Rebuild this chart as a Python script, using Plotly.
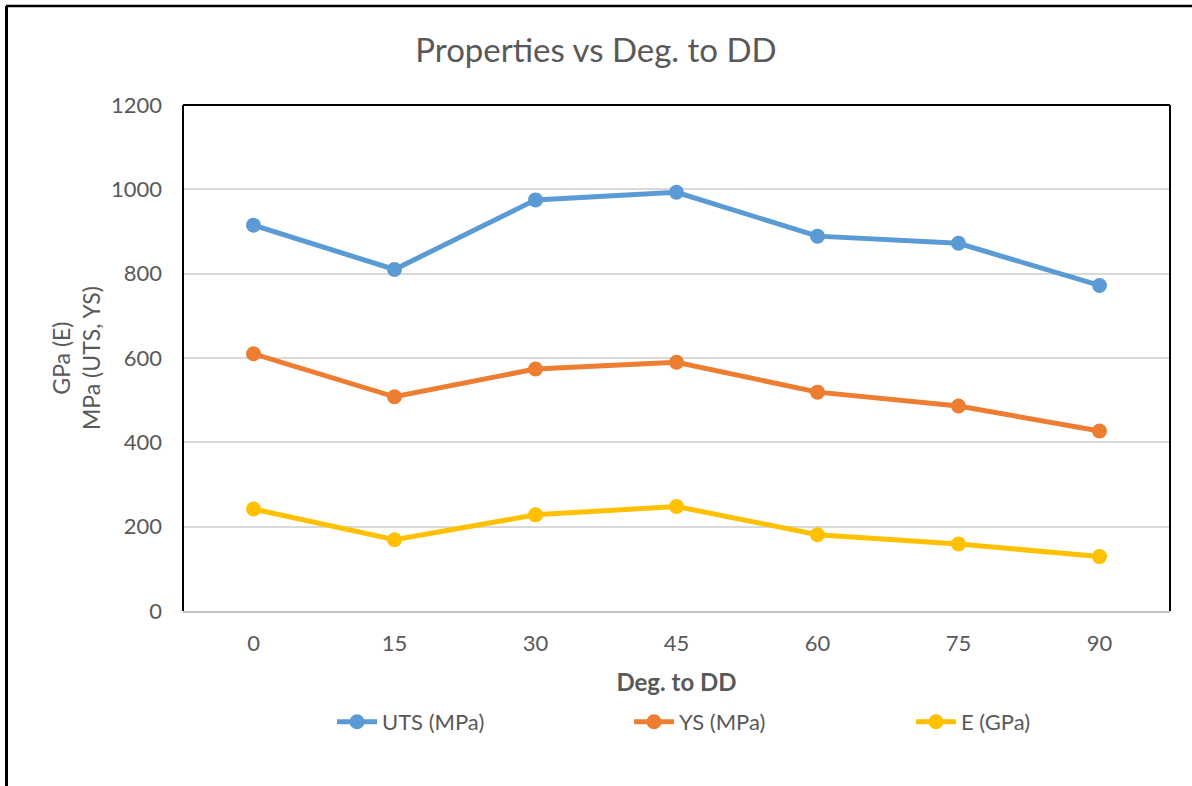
import plotly.graph_objects as go

# Orientation relative to the drawing direction (degrees)
angles = [0, 15, 30, 45, 60, 75, 90]

# Measured properties
uts_mpa = [915, 810, 975, 993, 889, 872, 772]
ys_mpa = [610, 508, 574, 590, 519, 486, 427]
e_gpa = [242, 169, 228, 248, 181, 159, 129]

series = [
    ("UTS (MPa)", uts_mpa, "#5B9BD5"),
    ("YS (MPa)", ys_mpa, "#ED7D31"),
    ("E (GPa)", e_gpa, "#FFC000"),
]

W, H = 1192, 786
ML, MR, MT, MB = 183, 22, 105, 175
PW, PH = W - ML - MR, H - MT - MB

FONT = "Lato, Calibri, Arial, sans-serif"
GREY = "#595959"


def px_x(p):
    return (p - ML) / PW


def px_y(p):
    return (H - MB - p) / PH


# one legend box per series, laid out in a row under the axis title
legend_ids = ["legend", "legend2", "legend3"]
legend_left = [332, 629, 911]

fig = go.Figure()
for (name, vals, col), lid in zip(series, legend_ids):
    fig.add_trace(go.Scatter(
        x=angles, y=vals, name=name, mode="lines+markers",
        line=dict(color=col, width=5),
        marker=dict(color=col, size=15),
        legend=lid, showlegend=True,
    ))

shapes = [
    # plot-area frame (left, top, right)
    dict(type="line", xref="paper", yref="paper", x0=0, x1=0, y0=0, y1=1,
         line=dict(color="black", width=2)),
    dict(type="line", xref="paper", yref="paper", x0=0, x1=1, y0=1, y1=1,
         line=dict(color="black", width=2)),
    dict(type="line", xref="paper", yref="paper", x0=1, x1=1, y0=0, y1=1,
         line=dict(color="black", width=2)),
    # outer chart frame (top and left edges)
    dict(type="line", xref="paper", yref="paper", x0=px_x(6), x1=px_x(W + 5),
         y0=px_y(6), y1=px_y(6), line=dict(color="black", width=2.5)),
    dict(type="line", xref="paper", yref="paper", x0=px_x(6.5), x1=px_x(6.5),
         y0=px_y(6), y1=px_y(H + 5), line=dict(color="black", width=3)),
]

legend_style = dict(orientation="h", xanchor="left", xref="paper",
                    y=px_y(722), yanchor="middle",
                    font=dict(size=22, color=GREY), itemwidth=40,
                    bgcolor="rgba(0,0,0,0)")

fig.update_layout(
    width=W, height=H,
    showlegend=True,
    margin=dict(l=ML, r=MR, t=MT, b=MB),
    paper_bgcolor="white", plot_bgcolor="white",
    font=dict(family=FONT, color=GREY, size=22),
    title=dict(text="Properties vs Deg. to DD", x=0.5, xanchor="center",
               xref="container", y=1 - 50 / H, yanchor="middle",
               yref="container",
               font=dict(size=33, color=GREY, family=FONT)),
    xaxis=dict(
        range=[-7.5, 97.5], tickvals=angles, ticktext=[str(a) for a in angles],
        showgrid=False, zeroline=False, showline=True, linecolor="#BFBFBF",
        linewidth=2, ticks="", tickfont=dict(size=22, color=GREY),
        ticklabelstandoff=12,
        title=dict(text="<b>Deg. to DD</b>", font=dict(size=24, color=GREY),
                   standoff=19),
    ),
    yaxis=dict(
        range=[0, 1200], tickvals=[0, 200, 400, 600, 800, 1000, 1200],
        showgrid=True, gridcolor="#D9D9D9", gridwidth=1.5, zeroline=False,
        showline=False, ticks="", ticklabelstandoff=20,
        tickfont=dict(size=22, color=GREY),
    ),
    legend=dict(x=px_x(legend_left[0]), **legend_style),
    legend2=dict(x=px_x(legend_left[1]), **legend_style),
    legend3=dict(x=px_x(legend_left[2]), **legend_style),
    shapes=shapes,
    annotations=[dict(
        text="GPa (E)<br>MPa (UTS, YS)", textangle=-90, xref="paper",
        yref="paper", x=px_x(76), y=0.5, xanchor="center", yanchor="middle",
        showarrow=False, font=dict(size=23, color=GREY, family=FONT),
    )],
)

fig.write_html("out.html")
